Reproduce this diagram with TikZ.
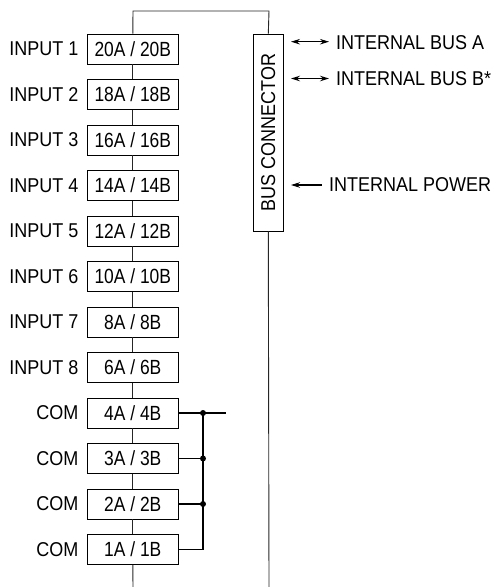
\documentclass[tikz,border=0pt]{standalone}
\usepackage{fontspec}
\setmainfont{Liberation Sans}[FakeStretch=0.9]
\newfontfamily\boxfont{Liberation Sans}[FakeStretch=0.85]
\usetikzlibrary{arrows.meta}
\begin{document}
\begin{tikzpicture}[x=1pt,y=-1pt,
  every node/.style={font=\fontsize{20}{22}\selectfont},
  pinbox/.style={draw, line width=0.9pt, minimum width=91pt, minimum height=30pt, inner sep=0pt,
    font=\boxfont\fontsize{20.5}{22}\selectfont},
  pinlabel/.style={anchor=east, inner sep=0pt},
  sidelabel/.style={anchor=west, inner sep=0pt},
  wire/.style={line width=0.9pt, draw=black!85},
  comwire/.style={line width=1.8pt},
  dot/.style={circle, fill=black, inner sep=0pt, minimum size=6pt},
  sig/.style={line width=1.1pt, shorten >=7pt},
  >={Stealth[length=9pt,width=5.5pt]}
]
\useasboundingbox (0,0) rectangle (498,587);
% pin boxes
\foreach \i/\t/\l in {1/{20A / 20B}/{INPUT 1}, 2/{18A / 18B}/{INPUT 2}, 3/{16A / 16B}/{INPUT 3}, 4/{14A / 14B}/{INPUT 4},
  5/{12A / 12B}/{INPUT 5}, 6/{10A / 10B}/{INPUT 6}, 7/{8A / 8B}/{INPUT 7}, 8/{6A / 6B}/{INPUT 8},
  9/{4A / 4B}/COM, 10/{3A / 3B}/COM, 11/{2A / 2B}/COM, 12/{1A / 1B}/COM}{
  \node[pinbox] (b\i) at (132.8, {49+45.5*(\i-1)}) {\t};
  \node[pinlabel] (l\i) at (78.5, {49+45.5*(\i-1)}) {\l};
}
% bus connector
\node[draw, line width=0.9pt, rotate=90, minimum width=197pt, minimum height=30pt, inner sep=0pt] (bc) at (268.3,132.5) {BUS CONNECTOR};
% wiring
\coordinate (t1) at (133,11);
\coordinate (t2) at (269,11);
\coordinate (bot1) at (133,587);
\coordinate (bot2) at (269,587);
\draw[wire] (b1.north) -- (t1) -- (t2) -- (bc.east);
\foreach \i [evaluate=\i as \j using int(\i+1)] in {1,...,11}{
  \draw[wire] (b\i.south) -- (b\j.north);
}
\draw[wire] (b12.south) -- (bot1);
\draw[wire] (bc.west) -- (bot2);
% COM bus
\coordinate (cend) at (226,{49+45.5*8});
\draw[comwire] (b9.east) -- (cend);
\draw[comwire] (b12.east) -| (203,{49+45.5*8});
\draw[comwire] (b10.east) -- (203,{49+45.5*9});
\draw[comwire] (b11.east) -- (203,{49+45.5*10});
\node[dot] (d9) at (203,{49+45.5*8}) {};
\node[dot] (d10) at (203,{49+45.5*9}) {};
\node[dot] (d11) at (203,{49+45.5*10}) {};
% internal signals
\node[sidelabel] (la) at (336,42.5) {INTERNAL BUS A};
\node[sidelabel] (lb) at (336,79) {INTERNAL BUS B*};
\node[sidelabel] (lp) at (329,185) {INTERNAL POWER};
\coordinate (ca) at (291,41.7);
\coordinate (cb) at (291,78.5);
\coordinate (cp) at (291,185);
\draw[sig, <->] (ca) -- (ca -| la.west);
\draw[sig, <->] (cb) -- (cb -| lb.west);
\draw[sig, <-] (cp) -- (cp -| lp.west);
\end{tikzpicture}
\end{document}
